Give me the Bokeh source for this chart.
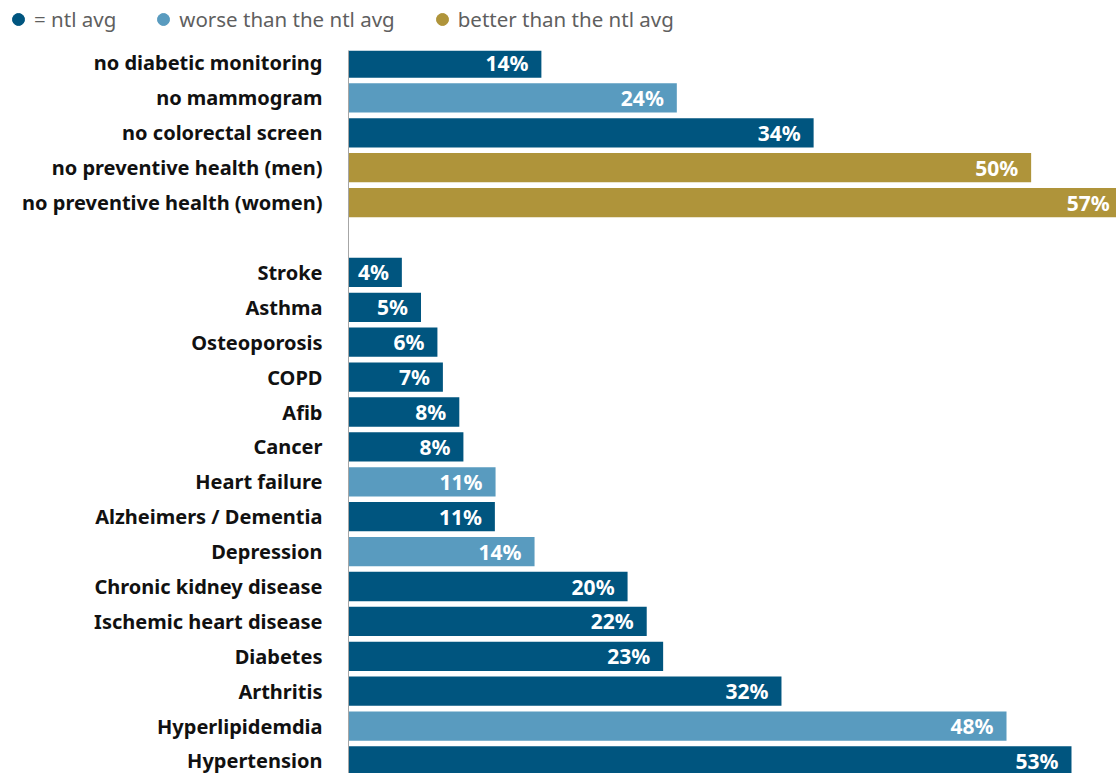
from bokeh.plotting import figure
from bokeh.layouts import column
from bokeh.models import ColumnDataSource, FactorRange, Range1d, Legend, LegendItem
from bokeh.embed import file_html
from bokeh.resources import INLINE
from bokeh.core.properties import value

# ---- data ----
categories = [
    "no diabetic monitoring", "no mammogram", "no colorectal screen",
    "no preventive health (men)", "no preventive health (women)", " ",
    "Stroke", "Asthma", "Osteoporosis", "COPD", "Afib", "Cancer",
    "Heart failure", "Alzheimers / Dementia", "Depression",
    "Chronic kidney disease", "Ischemic heart disease", "Diabetes",
    "Arthritis", "Hyperlipidemdia", "Hypertension",
]
bar_categories = [c for c in categories if c.strip()]
bar_values = [14.1, 24.0, 34.0, 49.9, 56.6,
              3.9, 5.3, 6.5, 6.9, 8.1, 8.4, 10.75, 10.7, 13.6,
              20.4, 21.8, 23.0, 31.65, 48.1, 52.85]
bar_labels = ["14%", "24%", "34%", "50%", "57%",
              "4%", "5%", "6%", "7%", "8%", "8%", "11%", "11%", "14%",
              "20%", "22%", "23%", "32%", "48%", "53%"]
bar_status = ["avg", "worse", "avg", "better", "better",
              "avg", "avg", "avg", "avg", "avg", "avg", "worse", "avg", "worse",
              "avg", "avg", "avg", "avg", "worse", "avg"]
legend_keys = ["avg", "worse", "better"]
legend_labels = ["= ntl avg", "worse than the ntl avg", "better than the ntl avg"]
status_colors = {"avg": "#00557F", "worse": "#599BBF", "better": "#AF943A"}

FONT = "Noto Sans"
W, H, LEG_H = 1116, 773, 45

src = ColumnDataSource(dict(
    cat=bar_categories, val=bar_values, lab=bar_labels,
    color=[status_colors[s] for s in bar_status],
))

# ---- legend strip ----
lf = figure(width=W, height=LEG_H, x_range=Range1d(0, 1), y_range=Range1d(0, 1),
            output_backend="svg", toolbar_location=None,
            x_axis_location=None, y_axis_location=None,
            min_border_left=0, min_border_right=0, min_border_top=0,
            min_border_bottom=0)
lf.frame_align = False
lf.outline_line_color = None
lf.xgrid.visible = False
lf.ygrid.visible = False
items = []
for key, lab in zip(legend_keys, legend_labels):
    r = lf.scatter(x=[float("nan")], y=[float("nan")], size=13,
                   color=status_colors[key], marker="circle")
    items.append(LegendItem(label=lab, renderers=[r]))
legend = Legend(items=items, orientation="horizontal", location="top_left",
                label_text_font=FONT, label_text_font_size="20.5px",
                label_text_color="#5f5f5f", glyph_width=30, glyph_height=32,
                label_standoff=1, spacing=32, padding=2, margin=3,
                border_line_color=None, background_fill_alpha=0)
lf.add_layout(legend, "center")

# ---- main chart ----
y_range = FactorRange(factors=list(reversed(categories)),
                      range_padding=-0.142, range_padding_units="absolute")

p = figure(width=W, height=H - LEG_H, y_range=y_range, x_range=Range1d(0, 56.14),
           output_backend="svg", toolbar_location=None,
           min_border_left=348, min_border_right=0, min_border_top=5,
           min_border_bottom=0, x_axis_location=None)
p.frame_align = False
p.outline_line_color = None
p.background_fill_color = "white"
p.border_fill_color = "white"
p.xgrid.visible = False
p.ygrid.visible = False

p.hbar(y="cat", right="val", left=0, height=0.84, color="color", source=src,
       line_color=None)
p.text(x="val", y="cat", text="lab", source=src, x_offset=-13,
       text_align="right", text_baseline="middle", text_color="white",
       text_font=value(FONT), text_font_style="bold", text_font_size="21px")

yax = p.yaxis[0]
yax.axis_line_color = "#a6a6a6"
yax.axis_line_width = 1
yax.major_tick_line_color = None
yax.minor_tick_line_color = None
yax.major_tick_out = 0
yax.major_tick_in = 0
yax.major_label_standoff = 26
yax.major_label_text_font = FONT
yax.major_label_text_font_style = "bold"
yax.major_label_text_font_size = "20px"
yax.major_label_text_color = "#111111"

layout = column(lf, p, spacing=0)
open("out.html", "w").write(file_html(layout, INLINE))
